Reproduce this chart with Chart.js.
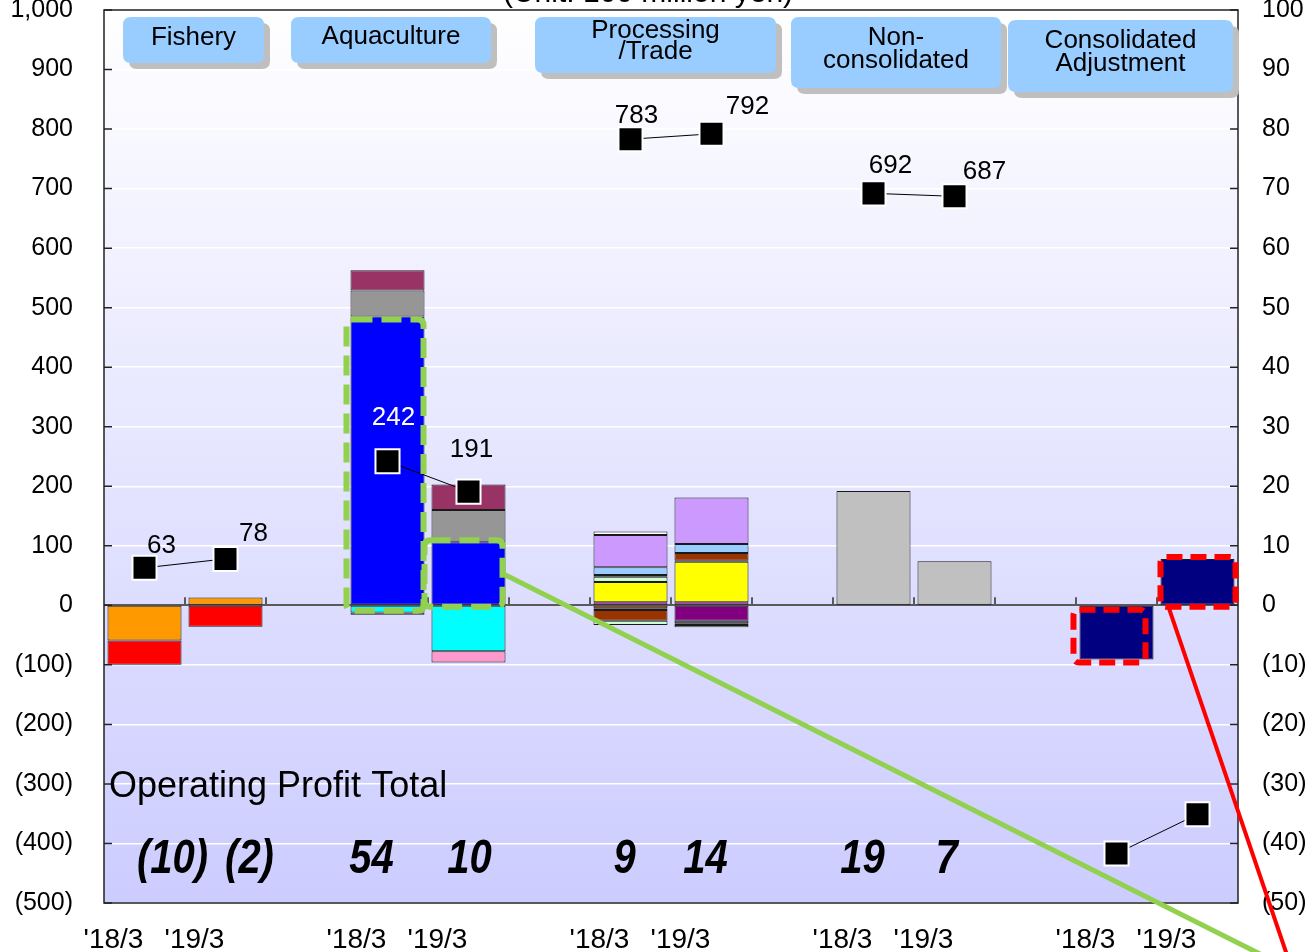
<!DOCTYPE html>
<html>
<head>
<meta charset="utf-8">
<script src="https://cdn.jsdelivr.net/npm/chart.js@4.4.1/dist/chart.umd.min.js"></script>
<style>
  html, body { margin: 0; padding: 0; background: #ffffff; overflow: hidden; }
  canvas { display: block; }
</style>
</head>
<body>
<canvas id="chart" width="1305" height="952"></canvas>
<script>
// ---- data -------------------------------------------------------------
const N = null;
// 14 slots: 5 segments x 2 fiscal years, with an empty slot between segments
const periods = ["'18/3", "'19/3", "", "'18/3", "'19/3", "", "'18/3", "'19/3", "", "'18/3", "'19/3", "", "'18/3", "'19/3"];

// net sales by segment (left axis, 100 million yen)
const netSales = [63, 78, N, 242, 191, N, 783, 792, N, 692, 687, N, -417, -351];

// operating profit components (right axis, 100 million yen)
const fishery1     = [-5.9, 1.3, N, N, N, N, N, N, N, N, N, N, N, N];
const fishery2     = [-4.1, -3.6, N, N, N, N, N, N, N, N, N, N, N, N];
const aqua1        = [N, N, N, 48.5, 10.6, N, N, N, N, N, N, N, N, N];
const aqua2        = [N, N, N, 4.4, 5.4, N, N, N, N, N, N, N, N, N];
const aqua3        = [N, N, N, 3.4, 4.3, N, N, N, N, N, N, N, N, N];
const aqua4        = [N, N, N, -1.2, -7.7, N, N, N, N, N, N, N, N, N];
const aqua5        = [N, N, N, -0.4, -1.9, N, N, N, N, N, N, N, N, N];
const proc1        = [N, N, N, N, N, N, 0.5, 0.5, N, N, N, N, N, N];
const proc2        = [N, N, N, N, N, N, 3.4, 6.8, N, N, N, N, N, N];
const proc3        = [N, N, N, N, N, N, 0.9, 0.2, N, N, N, N, N, N];
const proc4        = [N, N, N, N, N, N, 0.3, 1.3, N, N, N, N, N, N];
const proc5        = [N, N, N, N, N, N, 1.3, 1.5, N, N, N, N, N, N];
const proc6        = [N, N, N, N, N, N, 5.4, 7.8, N, N, N, N, N, N];
const proc7        = [N, N, N, N, N, N, 0.6, N, N, N, N, N, N, N];
const proc8        = [N, N, N, N, N, N, -0.5, N, N, N, N, N, N, N];
const proc9        = [N, N, N, N, N, N, -0.3, -2.6, N, N, N, N, N, N];
const proc10       = [N, N, N, N, N, N, -1.8, N, N, N, N, N, N, N];
const proc11       = [N, N, N, N, N, N, N, -0.4, N, N, N, N, N, N];
const proc12       = [N, N, N, N, N, N, N, -0.3, N, N, N, N, N, N];
const proc13       = [N, N, N, N, N, N, -0.7, -0.4, N, N, N, N, N, N];
const nonConsol    = [N, N, N, N, N, N, N, N, N, 19.2, 7.4, N, N, N];
const consolAdj    = [N, N, N, N, N, N, N, N, N, N, N, N, -9.1, 7.8];

const segmentNames = [["Fishery"], ["Aquaculture"], ["Processing", "/Trade"], ["Non-", "consolidated"], ["Consolidated", "Adjustment"]];
const unitTitle = "(Unit: 100 million yen)";
const totalCaption = "Operating Profit Total";
// slots whose operating profit total is printed under the bars
const totalSlots = [0, 1, 3, 4, 6, 7, 9, 10];
// slots whose net sales value is printed beside the marker
const salesLabelSlots = [0, 1, 3, 4, 6, 7, 9, 10];

// ---- styling ----------------------------------------------------------
const FONT = "'Liberation Sans', Arial, sans-serif";
Chart.defaults.font.family = FONT;
Chart.defaults.color = '#000';

const barSeries = [
  [fishery1, '#FF9900'], [fishery2, '#FF0000'],
  [aqua1, '#0000FF'], [aqua2, '#969696'], [aqua3, '#993366'], [aqua4, '#00FFFF'], [aqua5, '#FF99CC'],
  [proc1, '#FF00FF'], [proc2, '#FFFF00'], [proc3, '#CCFFCC'], [proc4, '#993300'], [proc5, '#99CCFF'],
  [proc6, '#CC99FF'], [proc7, '#FFFFFF'], [proc8, '#FF6600'], [proc9, '#800080'], [proc10, '#993300'],
  [proc11, '#808080'], [proc12, '#C0C0C0'], [proc13, '#CCFFCC'],
  [nonConsol, '#C0C0C0'], [consolAdj, '#000080']
];

const datasets = barSeries.map(([data, color], i) => ({
  type: 'bar',
  label: 'op' + i,
  data: data,
  yAxisID: 'y1',
  stack: 'op',
  order: 1,
  backgroundColor: color,
  borderColor: '#1a1a1a',
  borderWidth: 1,
  borderSkipped: false,
  categoryPercentage: 1,
  barPercentage: 0.914
}));

datasets.push({
  type: 'line',
  label: 'sales',
  data: netSales,
  yAxisID: 'y',
  order: 0,
  borderColor: '#000',
  borderWidth: 1,
  spanGaps: false,
  pointStyle: 'rect',
  pointRadius: 17,
  pointBackgroundColor: '#000',
  pointBorderColor: '#fff',
  pointBorderWidth: 2
});

const fmtLeft = v => v < 0 ? '(' + Math.abs(v).toLocaleString('en-US') + ')' : v.toLocaleString('en-US');
const fmtRight = v => v < 0 ? '(' + Math.abs(v) + ')' : String(v);

// plot background: white fading to lavender
const backgroundPlugin = {
  id: 'plotBackground',
  beforeDraw(chart) {
    const { ctx, chartArea: a } = chart;
    const g = ctx.createLinearGradient(0, a.top, 0, a.bottom);
    g.addColorStop(0, '#FFFFFF');
    g.addColorStop(1, '#CCCCFF');
    ctx.save();
    ctx.fillStyle = g;
    ctx.fillRect(a.left, a.top, a.right - a.left, a.bottom - a.top);
    ctx.restore();
  }
};

function roundRectPath(ctx, x, y, w, h, r) {
  ctx.beginPath();
  ctx.moveTo(x + r, y);
  ctx.lineTo(x + w - r, y);
  ctx.quadraticCurveTo(x + w, y, x + w, y + r);
  ctx.lineTo(x + w, y + h - r);
  ctx.quadraticCurveTo(x + w, y + h, x + w - r, y + h);
  ctx.lineTo(x + r, y + h);
  ctx.quadraticCurveTo(x, y + h, x, y + h - r);
  ctx.lineTo(x, y + r);
  ctx.quadraticCurveTo(x, y, x + r, y);
  ctx.closePath();
}

// header tabs, frame, marker labels, totals and callouts
const decorPlugin = {
  id: 'decor',
  afterDatasetsDraw(chart) {
    const { ctx, chartArea: a, scales } = chart;
    const xs = scales.x, yL = scales.y, yR = scales.y1;
    ctx.save();

    // frame
    ctx.strokeStyle = '#222';
    ctx.lineWidth = 1.5;
    ctx.strokeRect(a.left, a.top, a.right - a.left, a.bottom - a.top);

    // inward ticks on both value axes
    ctx.beginPath();
    yL.ticks.forEach(t => { const y = yL.getPixelForValue(t.value); ctx.moveTo(a.left, y); ctx.lineTo(a.left + 8, y); });
    yR.ticks.forEach(t => { const y = yR.getPixelForValue(t.value); ctx.moveTo(a.right, y); ctx.lineTo(a.right - 8, y); });
    ctx.stroke();

    // category boundary ticks on the zero line
    const y0 = yR.getPixelForValue(0);
    ctx.strokeStyle = '#5a5a5a';
    ctx.lineWidth = 2;
    ctx.beginPath();
    for (let i = 1; i < periods.length; i++) {
      const xb = (xs.getPixelForValue(i - 1) + xs.getPixelForValue(i)) / 2;
      ctx.moveTo(xb, y0); ctx.lineTo(xb, y0 - 8);
    }
    ctx.stroke();

    // dashed highlight frames around selected bar segments
    const highlights = [
      { ds: 2, idx: 3, color: '#92D050', dash: [20, 9], pad: [-4, -1, 3, 6] },
      { ds: 2, idx: 4, color: '#92D050', dash: [20, 9], pad: [-7, -3, -2, 2] },
      { ds: 21, idx: 12, color: '#FF0000', dash: [16, 8], pad: [-6, -8, 4, 3] },
      { ds: 21, idx: 13, color: '#FF0000', dash: [16, 8], pad: [0, 1, -2, 2] }
    ];
    const boxes = highlights.map(h => {
      const el = chart.getDatasetMeta(h.ds).data[h.idx];
      const l = el.x - el.width / 2 + h.pad[0];
      const r = el.x + el.width / 2 + h.pad[1];
      const t = Math.min(el.y, el.base) + h.pad[2];
      const b = Math.max(el.y, el.base) + h.pad[3];
      ctx.strokeStyle = h.color;
      ctx.lineWidth = 6;
      ctx.setLineDash(h.dash);
      ctx.lineJoin = 'round';
      roundRectPath(ctx, l, t, r - l, b - t, 6);
      ctx.stroke();
      return { l, r, t, b };
    });
    ctx.setLineDash([]);

    // net sales labels
    const meta = chart.getDatasetMeta(datasets.length - 1);
    const salesOffsets = { 0: [17, -22], 1: [28, -25], 3: [6, -43], 4: [3, -42], 6: [6, -23], 7: [36, -27], 9: [17, -28], 10: [30, -25] };
    ctx.font = '26px ' + FONT;
    ctx.textAlign = 'center';
    ctx.textBaseline = 'middle';
    salesLabelSlots.forEach(i => {
      const p = meta.data[i];
      const o = salesOffsets[i];
      ctx.fillStyle = i === 3 ? '#FFFFFF' : '#000000';
      ctx.fillText(String(netSales[i]), p.x + o[0], p.y + o[1]);
    });

    // operating profit caption and totals
    ctx.fillStyle = '#000';
    ctx.textAlign = 'left';
    ctx.font = '36px ' + FONT;
    ctx.fillText(totalCaption, a.left + 5, yL.getPixelForValue(-305));

    const totalOffsets = { 0: 28, 1: 24, 3: -16, 4: 1, 6: -6, 7: -6, 9: -11, 10: -8 };
    const ty = yL.getPixelForValue(-427);
    totalSlots.forEach(i => {
      let sum = 0;
      barSeries.forEach(([d]) => { if (d[i] != null) sum += d[i]; });
      const v = Math.trunc(Math.round(sum * 10) / 10);
      const txt = v < 0 ? '(' + Math.abs(v) + ')' : String(v);
      ctx.save();
      ctx.translate(xs.getPixelForValue(i) + totalOffsets[i], ty);
      ctx.scale(1, 1.2);
      ctx.font = 'italic bold 40px ' + FONT;
      ctx.textAlign = 'center';
      ctx.textBaseline = 'middle';
      ctx.fillText(txt, 0, 0);
      ctx.restore();
    });

    // segment header tabs
    const tabs = [
      { x: 123, y: 17, w: 141, h: 46, ty: [38] },
      { x: 291, y: 17, w: 200, h: 46, ty: [37] },
      { x: 535, y: 17, w: 241, h: 56, ty: [31, 52] },
      { x: 791, y: 17, w: 210, h: 71, ty: [38, 61] },
      { x: 1008, y: 20, w: 225, h: 72, ty: [41, 64] }
    ];
    tabs.forEach((t, k) => {
      ctx.fillStyle = '#BFBFBF';
      roundRectPath(ctx, t.x + 6, t.y + 6, t.w, t.h, 8);
      ctx.fill();
      ctx.fillStyle = '#99CCFF';
      roundRectPath(ctx, t.x, t.y, t.w, t.h, 8);
      ctx.fill();
      ctx.fillStyle = '#000';
      ctx.font = '26px ' + FONT;
      ctx.textAlign = 'center';
      ctx.textBaseline = 'middle';
      segmentNames[k].forEach((line, j) => ctx.fillText(line, t.x + t.w / 2, t.ty[j]));
    });

    // unit title at the top edge
    ctx.font = '30px ' + FONT;
    ctx.textAlign = 'center';
    ctx.textBaseline = 'alphabetic';
    ctx.fillText(unitTitle, 648, 2);

    // callout leader lines
    ctx.lineCap = 'butt';
    ctx.strokeStyle = '#92D050';
    ctx.lineWidth = 5;
    ctx.beginPath();
    ctx.moveTo(boxes[1].r, (boxes[1].t + boxes[1].b) / 2);
    ctx.lineTo(1262, 955);
    ctx.stroke();
    ctx.strokeStyle = '#FF0000';
    ctx.lineWidth = 4;
    ctx.beginPath();
    ctx.moveTo(boxes[3].l + 8, boxes[3].b);
    ctx.lineTo(1287, 955);
    ctx.stroke();

    ctx.restore();
  }
};

const hidden = 'rgba(0,0,0,0)';

new Chart(document.getElementById('chart'), {
  data: { labels: periods, datasets: datasets },
  options: {
    responsive: false,
    animation: false,
    layout: { autoPadding: false, padding: { top: 10, left: 0, right: 0, bottom: 0 } },
    plugins: { legend: { display: false }, tooltip: { enabled: false } },
    scales: {
      x: {
        stacked: true,
        grid: { display: false },
        border: { display: false },
        ticks: { autoSkip: false, maxRotation: 0, minRotation: 0, padding: 12, labelOffset: -31, font: { size: 28 }, color: '#000' },
        afterFit(s) { s.height = 49; }
      },
      y: {
        position: 'left',
        min: -500, max: 1000,
        border: { display: false },
        grid: {
          drawTicks: true,
          tickLength: 31,
          tickColor: hidden,
          color: c => (c.tick && c.tick.value === 0 ? '#5a5a5a' : '#FFFFFF'),
          lineWidth: c => (c.tick && c.tick.value === 0 ? 2 : 1.5)
        },
        ticks: { stepSize: 100, padding: 0, font: { size: 25, lineHeight: 0.8 }, color: '#000', callback: v => fmtLeft(v) },
        afterFit(s) { s.width = 104; }
      },
      y1: {
        position: 'right',
        stacked: true,
        min: -50, max: 100,
        border: { display: false },
        grid: { display: true, drawOnChartArea: false, drawTicks: true, tickLength: 24, tickColor: hidden },
        ticks: { stepSize: 10, padding: 0, font: { size: 25, lineHeight: 0.8 }, color: '#000', callback: v => fmtRight(v) },
        afterFit(s) { s.width = 67; }
      }
    }
  },
  plugins: [backgroundPlugin, decorPlugin]
});
</script>
</body>
</html>
